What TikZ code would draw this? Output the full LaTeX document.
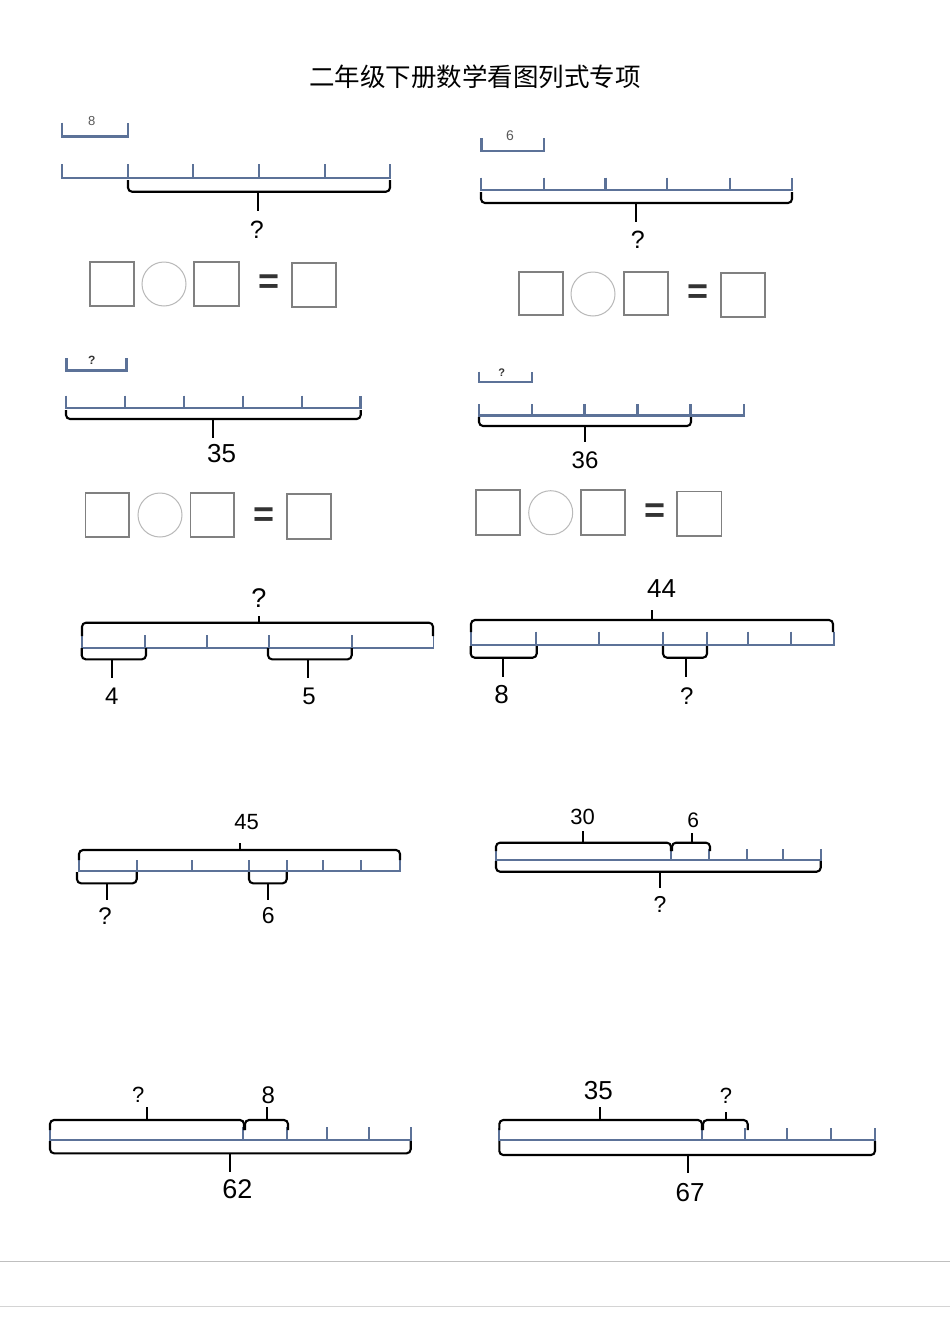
\documentclass[tikz,border=0pt]{standalone}
\usepackage{fontspec}
\setsansfont{Liberation Sans}
\newfontfamily\cjk{Noto Sans CJK SC}
\definecolor{barblue}{RGB}{92,114,152}
\definecolor{boxgray}{RGB}{128,128,128}
\definecolor{circgray}{RGB}{185,185,185}
\newcommand\mybrace[6]{%
  \draw[brace] (#1,#3) -- (#1,#4) -- (#2,#4) -- (#2,#3);
  \draw[brace] (#5,#4) -- (#5,#6);}
\begin{document}
\begin{tikzpicture}[x=1pt,y=-1pt,
  bar/.style={draw=barblue,line width=2.5pt},
  barthin/.style={draw=barblue,line width=1.9pt},
  brace/.style={draw=black,line width=2.1pt,rounded corners=4pt},
  ansbox/.style={draw=boxgray,line width=1.1pt},
  circ/.style={draw=circgray,line width=1pt},
  lbl/.style={font=\sffamily\fontsize{#1}{#1}\selectfont,inner sep=0pt},
  small/.style={font=\sffamily\fontsize{#1}{#1}\selectfont,inner sep=0pt,text=black!65},
  eq/.style={font=\sffamily\bfseries\fontsize{36}{36}\selectfont,inner sep=0pt,text=black!80}]
\useasboundingbox (0,0) rectangle (950,1330);
\fill[white] (0,0) rectangle (950,1330);

% title
\node[font=\cjk\fontsize{25.5}{25.5}\selectfont,inner sep=0pt] (title) at (475,77) {二年级下册数学看图列式专项};

% ---------- D1
\draw[bar] (62,122.7) -- (62,136.7) -- (128,136.7) -- (128,122.7);
\node[small=13] (d1a) at (91.7,121.3) {8};
\draw[bar] (62,164) -- (62,178) -- (390,178) -- (390,164);
\foreach \x in {128,193,259,325} \draw[bar] (\x,164) -- (\x,178);
\mybrace{128}{390}{180}{191.7}{258}{211}
\node[lbl=25] (d1q) at (256.7,229.7) {?};
\draw[ansbox] (90,262) rectangle (134,306);
\draw[circ] (164,284) circle (22);
\draw[ansbox] (194,262) rectangle (239,306);
\node[eq] (d1e) at (269,284) {=};
\draw[ansbox] (292,263) rectangle (336,307);

% ---------- D2
\draw[bar] (481.7,138) -- (481.7,151) -- (544,151) -- (544,138);
\node[small=14] (d2a) at (510,136) {6};
\draw[bar] (481,177.7) -- (481,190) -- (792,190) -- (792,177.7);
\foreach \x in {544,605.7,667,730} \draw[bar] (\x,177.7) -- (\x,190);
\mybrace{481}{792}{192}{203}{636}{222}
\node[lbl=25] (d2q) at (637.7,239.7) {?};
\draw[ansbox] (519,272) rectangle (563,315);
\draw[circ] (593,294) circle (22);
\draw[ansbox] (624,272) rectangle (668,315);
\node[eq] (d2e) at (698,294) {=};
\draw[ansbox] (721,273) rectangle (765,317);

% ---------- D3
\draw[bar] (66.7,358) -- (66.7,370.7) -- (126.7,370.7) -- (126.7,358);
\node[small=12,font=\sffamily\bfseries\fontsize{12}{12}\selectfont,text=black!80] (d3a) at (91.7,360.5) {?};
\draw[bar] (66,395.7) -- (66,408) -- (360.7,408) -- (360.7,395.7);
\foreach \x in {125,184,243,302} \draw[bar] (\x,395.7) -- (\x,408);
\mybrace{66}{360.7}{410}{419}{212.7}{438}
\node[lbl=26] (d3n) at (221.7,453.7) {35};
\draw[ansbox] (85.7,493) rectangle (129,537);
\draw[circ] (160,515) circle (22);
\draw[ansbox] (190.7,493) rectangle (234,537);
\node[eq] (d3e) at (264,516.7) {=};
\draw[ansbox] (287,494) rectangle (331,539);

% ---------- D4
\draw[bar] (479,371.7) -- (479,382) -- (532,382) -- (532,371.7);
\node[small=11,font=\sffamily\bfseries\fontsize{11}{11}\selectfont,text=black!80] (d4a) at (501.7,373) {?};
\draw[bar] (479,404.3) -- (479,415.7) -- (744,415.7) -- (744,404.3);
\foreach \x in {532,584.7,637.7,690.7} \draw[bar] (\x,404.3) -- (\x,415.7);
\mybrace{479}{691}{417}{426}{585}{441.7}
\node[lbl=24] (d4n) at (585,460) {36};
\draw[ansbox] (476,490) rectangle (520,535);
\draw[circ] (550.7,512.7) circle (22);
\draw[ansbox] (581,490) rectangle (625,535);
\node[eq] (d4e) at (655,513) {=};
\draw[ansbox] (677,491.7) rectangle (721.7,536);

% ---------- D5
\draw[barthin] (81.7,635) -- (81.7,647.7) -- (433.5,647.7) -- (433.5,635);
\foreach \x in {145,206.7,269,351.7} \draw[barthin] (\x,635) -- (\x,647.7);
\mybrace{82}{433}{636}{622.7}{259}{616}
\node[lbl=27] (d5q) at (259,598) {?};
\mybrace{81.7}{146}{648}{659.3}{111.7}{678}
\node[lbl=24] (d5a) at (111.7,696.7) {4};
\mybrace{268}{351.7}{648}{659.3}{308.3}{678}
\node[lbl=24] (d5b) at (309,696.7) {5};

% ---------- D6
\draw[barthin] (470.7,631.7) -- (470.7,645) -- (834,645) -- (834,631.7);
\foreach \x in {536,599,663,706.7,748,791} \draw[barthin] (\x,631.7) -- (\x,645);
\mybrace{471}{833}{632}{620}{652}{610}
\node[lbl=26] (d6n) at (661.7,589) {44};
\mybrace{470.7}{536.7}{646}{657.7}{502.7}{676.7}
\node[lbl=26] (d6a) at (501.7,694.7) {8};
\mybrace{663}{707}{646}{657.7}{685.7}{677}
\node[lbl=24] (d6q) at (686.7,695.8) {?};

% ---------- D7
\draw[barthin] (79,860) -- (79,871) -- (400,871) -- (400,860);
\foreach \x in {136.7,192.3,249,286.7,323.3,361} \draw[barthin] (\x,860) -- (\x,871);
\mybrace{79}{400}{860}{850}{240}{842.7}
\node[lbl=22] (d7n) at (246.7,822.5) {45};
\mybrace{77}{136.7}{872}{883.3}{106.7}{900}
\node[lbl=24] (d7q) at (105,915.8) {?};
\mybrace{249}{286.7}{872}{883.3}{268}{900}
\node[lbl=23] (d7a) at (268.3,916) {6};

% ---------- D8
\draw[barthin] (496,849.3) -- (496,860) -- (820.7,860) -- (820.7,849.3);
\foreach \x in {670.7,709.3,746.7,783.3} \draw[barthin] (\x,849.3) -- (\x,860);
\mybrace{496}{671}{851}{842.7}{583.3}{831}
\node[lbl=22] (d8a) at (582.7,817) {30};
\mybrace{672}{710}{851}{842.7}{692.3}{833.3}
\node[lbl=21] (d8b) at (693.3,820.3) {6};
\mybrace{496}{820.7}{861}{871.7}{660}{888.3}
\node[lbl=23] (d8q) at (660,904) {?};

% ---------- D9
\draw[barthin] (50,1127.3) -- (50,1140) -- (410.7,1140) -- (410.7,1127.3);
\foreach \x in {243.3,286.7,327.3,369.3} \draw[barthin] (\x,1127.3) -- (\x,1140);
\mybrace{50}{244}{1130}{1120}{146.7}{1106.7}
\node[lbl=22] (d9q) at (138.3,1094.7) {?};
\mybrace{245}{288}{1130}{1120}{267.3}{1106.7}
\node[lbl=24] (d9a) at (268.3,1095) {8};
\mybrace{50}{410.7}{1141}{1153.3}{230}{1171.7}
\node[lbl=27] (d9n) at (237.3,1189) {62};

% ---------- D10
\draw[barthin] (499.3,1128.3) -- (499.3,1140) -- (875,1140) -- (875,1128.3);
\foreach \x in {701.7,745,786.7,831} \draw[barthin] (\x,1128.3) -- (\x,1140);
\mybrace{499.3}{702}{1130}{1120}{600}{1106.7}
\node[lbl=26] (d10a) at (598.3,1091) {35};
\mybrace{703}{747.7}{1130}{1120}{726}{1111.7}
\node[lbl=22] (d10q) at (726,1096) {?};
\mybrace{499.3}{875}{1141}{1155}{688.3}{1173.3}
\node[lbl=26] (d10n) at (690,1192.3) {67};

% footer lines
\draw[black!25,line width=1.3pt] (0,1261.7) -- (950,1261.7);
\draw[black!17,line width=0.8pt] (0,1306) -- (950,1306);
\end{tikzpicture}
\end{document}
